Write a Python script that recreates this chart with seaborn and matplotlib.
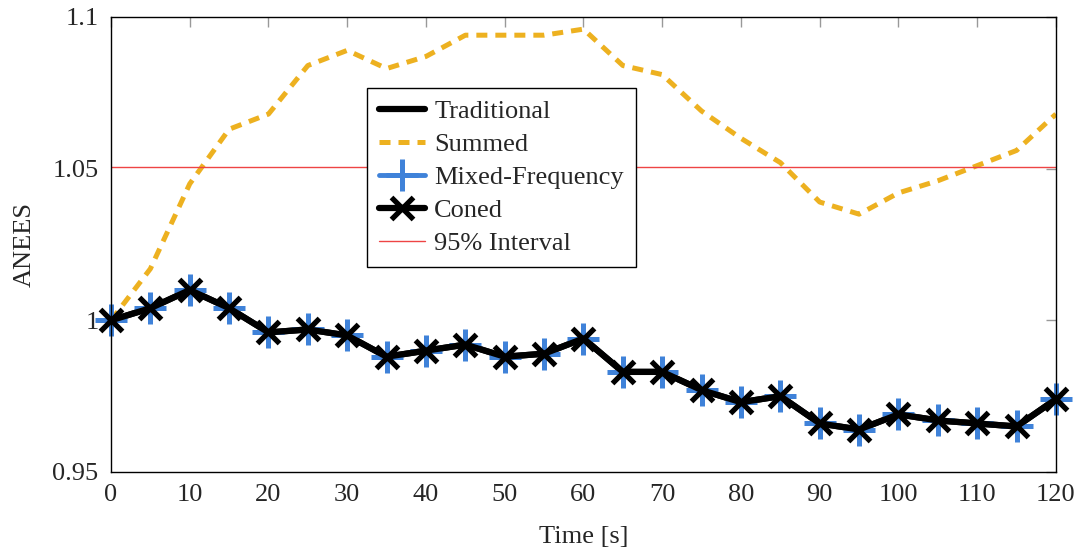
import numpy as np
import pandas as pd
import matplotlib
matplotlib.use("Agg")
import matplotlib.pyplot as plt
import seaborn as sns

# data
time_s = [0, 5, 10, 15, 20, 25, 30, 35, 40, 45, 50, 55, 60,
          65, 70, 75, 80, 85, 90, 95, 100, 105, 110, 115, 120]
traditional = [1.000, 1.004, 1.010, 1.004, 0.996, 0.997, 0.995, 0.988, 0.990,
               0.992, 0.988, 0.989, 0.994, 0.983, 0.983, 0.977, 0.973, 0.975,
               0.966, 0.964, 0.969, 0.967, 0.966, 0.965, 0.974]
summed = [1.000, 1.017, 1.045, 1.063, 1.068, 1.084, 1.089, 1.083, 1.087,
          1.094, 1.094, 1.094, 1.096, 1.084, 1.081, 1.069, 1.060, 1.052,
          1.039, 1.035, 1.042, 1.046, 1.051, 1.056, 1.068]
mixed_freq = traditional
coned = traditional
interval_lo = 0.9497
interval_hi = 1.0505

sns.set_style("white")
plt.rcParams['font.family'] = ['Liberation Serif', 'DejaVu Serif']

fig = plt.figure(figsize=(10.83, 5.48), dpi=100)
ax = fig.add_axes([0.1025, 0.1387, 0.8725, 0.8303])

blue = '#3f82d9'
yellow = '#edb120'
red = '#ee4444'

# seaborn gives markers a white edge by default, so set the edge colour too
sns.lineplot(x=time_s, y=traditional, ax=ax, label='Traditional',
             color='black', linewidth=4.5)
sns.lineplot(x=time_s, y=summed, ax=ax, label='Summed',
             color=yellow, linewidth=3.6, linestyle=(0, (2.2, 1.6)))
sns.lineplot(x=time_s, y=mixed_freq, ax=ax, label='Mixed-Frequency',
             color=blue, linewidth=3.5, marker='+', markersize=23,
             markeredgewidth=3.6, markeredgecolor=blue, clip_on=False)
sns.lineplot(x=time_s, y=coned, ax=ax, label='Coned',
             color='black', linewidth=4.5, marker='x', markersize=16,
             markeredgewidth=3.8, markeredgecolor='black', clip_on=False)
ax.axhline(interval_hi, color=red, lw=1.0, label='95% Interval')
ax.axhline(interval_lo, color=red, lw=1.0)

ax.set_xlim(0, 120)
ax.set_ylim(0.95, 1.1)
ax.set_xticks(range(0, 121, 10))
ax.set_yticks([0.95, 1.0, 1.05, 1.1])
ax.set_yticklabels(['0.95', '1', '1.05', '1.1'])
ax.tick_params(direction='in', length=7, width=1, color='#999999',
               top=True, right=True, labelsize=19, pad=9)
for s in ax.spines.values():
    s.set_color('black')
    s.set_linewidth(1.0)

ax.set_xlabel('Time [s]', fontsize=19, labelpad=14)
ax.set_ylabel('ANEES', fontsize=19, labelpad=12)

leg = ax.legend(loc='upper left', bbox_to_anchor=(0.271, 0.845), fontsize=19,
                frameon=True, fancybox=False, framealpha=1, edgecolor='black',
                handlelength=1.75, handletextpad=0.35, labelspacing=0.36,
                borderpad=0.45, borderaxespad=0)
leg.get_frame().set_linewidth(1.0)

fig.savefig('out.png', dpi=100)
